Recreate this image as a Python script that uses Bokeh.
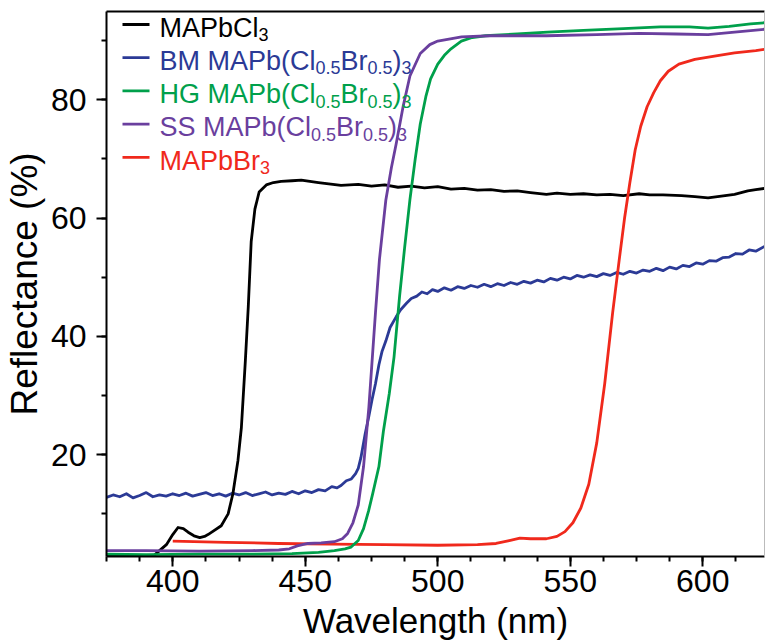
from bokeh.plotting import figure
from bokeh.models import (SingleIntervalTicker, FixedTicker, LinearAxis, Label,
                          PolyAnnotation)
from bokeh.embed import file_html
from bokeh.resources import INLINE

# ---------------- data ----------------
wl_black = [375, 380, 385, 390, 393, 395, 397.6, 400, 402, 404, 405.8, 408, 410.2, 412,
            413.3, 415, 418.3, 420.9, 422.7, 424.6, 425.9, 427.4, 428.5, 429.6, 431,
            432.6, 435.3, 438, 440.9, 445, 448.5, 455, 463.5, 470, 475, 480, 485, 490,
            495, 500, 505, 510, 515, 520, 525, 530, 535, 541, 545, 550, 555, 560, 565,
            570, 576, 580, 585, 592, 597, 602, 607, 612, 617, 620, 623.3]
r_black = [3.0, 2.9, 2.8, 2.8, 3.0, 3.8, 4.8, 6.5, 7.7, 7.5, 6.9, 6.3, 6.0, 6.2,
           6.5, 7.0, 8.0, 10.0, 13.4, 19.0, 24.6, 35.9, 45.0, 56.0, 61.5,
           64.4, 65.6, 66.0, 66.2, 66.3, 66.4, 66.0, 65.5, 65.7, 65.4, 65.6, 65.2, 65.4,
           65.1, 65.3, 64.9, 65.0, 64.7, 64.8, 64.5, 64.6, 64.3, 64.0, 64.2, 64.0, 64.1, 63.9, 64.0,
           63.8, 64.1, 63.9, 63.9, 63.8, 63.6, 63.4, 63.7, 64.0, 64.6, 64.8, 65.0]

wl_bm = [375, 377.5, 380, 382.5, 385, 387.5, 390, 392.5, 395, 397.5, 400, 402.5, 405, 407.5,
         410, 412.5, 415, 417.5, 420, 422.5, 425, 427.5, 430, 432.5, 435, 437.5, 440, 442.5,
         445, 447.5, 450, 452.5, 455, 457.5, 460, 462, 463.5, 465.5, 467.4, 469, 470, 471,
         472.6, 474, 475.2, 476.5, 477.8, 479, 480.4, 482, 484.3, 486, 488.2, 490, 492.1,
         494, 496, 498, 500, 502.5, 505, 507.5, 510, 512.5, 515, 517.5, 520, 522.5, 525,
         527.5, 530, 532.5, 535, 537.5, 540, 542.5, 545, 547.5, 550, 552.5, 555, 557.5, 560,
         562.5, 565, 567.5, 570, 572.5, 575, 577.5, 580, 582.5, 585, 587.5, 590, 592.5, 595,
         597.5, 600, 602.5, 605, 607.5, 610, 612.5, 615, 617.5, 620, 623.3]
r_bm = [12.8, 13.2, 12.9, 13.4, 12.7, 13.1, 13.6, 12.9, 13.2, 13.0, 13.4, 13.1, 13.5, 13.0,
        13.3, 13.6, 13.1, 13.4, 13.0, 13.5, 13.2, 13.6, 13.1, 13.4, 13.7, 13.2, 13.5, 13.3,
        13.8, 13.4, 13.9, 13.6, 14.1, 13.9, 14.6, 14.4, 14.8, 15.6, 15.9, 16.8, 17.7, 19.5,
        23.5, 26.5, 29.3, 32.0, 35.2, 37.5, 39.2, 41.5, 43.3, 44.5, 45.6, 46.4, 46.8,
        47.5, 47.2, 47.9, 47.6, 48.2, 47.8, 48.4, 48.1, 48.6, 48.3, 48.8, 48.4, 48.9, 48.6,
        49.1, 48.8, 49.3, 49.0, 49.5, 49.2, 49.8, 49.5, 50.0, 49.7, 50.3, 50.0, 50.4, 50.1,
        50.6, 50.3, 50.8, 50.5, 51.0, 50.7, 51.2, 51.0, 51.5, 51.1, 51.7, 51.4, 52.0, 51.8,
        52.4, 52.2, 52.8, 52.7, 53.3, 53.4, 54.0, 53.9, 54.6, 54.4, 55.2]

wl_hg = [375, 390, 410, 430, 445, 455, 461, 465, 467.3, 470, 472, 473.9, 475.5, 477.8, 479.5,
         481.7, 483.5, 485.6, 487.5, 489.5, 491.5, 493.4, 495.5, 497.3, 500, 502.5, 505,
         508.9, 513, 518, 530, 541.4, 555, 570, 584, 595, 602, 610, 618, 623.3]
r_hg = [3.2, 3.1, 3.2, 3.2, 3.3, 3.5, 3.8, 4.1, 4.4, 5.5, 7.5, 10.5, 13.5, 18.0, 24.0,
        30.3, 36.5, 46.8, 55.0, 63.1, 70.0, 75.9, 80.5, 83.5, 86.0, 87.5, 88.6,
        89.9, 90.5, 90.8, 91.1, 91.4, 91.7, 92.0, 92.3, 92.3, 92.1, 92.4, 92.8, 93.0]

wl_ss = [375, 390, 410, 430, 440, 444, 447, 451, 456, 461, 464, 466, 468, 470, 472, 474,
         476.5, 478, 480.4, 482.5, 484.3, 487, 489.5, 493.4, 497, 500, 509, 520, 541, 560,
         576, 590, 602, 612, 623.3]
r_ss = [3.8, 3.8, 3.7, 3.8, 3.9, 4.1, 4.6, 5.0, 5.1, 5.3, 5.8, 6.7, 8.5, 11.5, 18.0, 28.0,
        44.0, 53.0, 63.0, 68.5, 72.5, 79.0, 84.0, 87.8, 89.3, 89.9, 90.6, 90.8, 90.8, 91.0,
        91.2, 91.1, 91.0, 91.4, 91.9]

wl_br = [400, 420, 440, 460, 480, 500, 515, 522, 527, 531, 535, 541, 545, 548, 551, 554,
         557, 560, 563, 566, 568.5, 570.5, 572.5, 574.5, 576.6, 579, 581.5, 584, 587, 591,
         597, 605, 612, 620, 623.3]
r_br = [5.4, 5.2, 5.0, 4.9, 4.8, 4.7, 4.8, 5.0, 5.5, 5.9, 5.8, 5.8, 6.2, 7.0, 8.5, 11.0,
        15.0, 22.0, 32.0, 44.0, 53.0, 60.0, 66.0, 71.5, 75.5, 78.8, 81.2, 83.2, 84.8, 86.0,
        86.8, 87.4, 87.9, 88.3, 88.5]

series = [
    (wl_black, r_black, "#000000"),
    (wl_bm, r_bm, "#2B3A96"),
    (wl_hg, r_hg, "#00A04B"),
    (wl_ss, r_ss, "#6A3F9E"),
    (wl_br, r_br, "#F0291C"),
]
draw_order = [1, 0, 4, 2, 3]

legend_colors = ["#000000", "#2B3A96", "#00A04B", "#6A3F9E", "#F0291C"]
legend_parts = [
    [("MAPbCl", False), ("3", True)],
    [("BM MAPb(Cl", False), ("0.5", True), ("Br", False), ("0.5", True), (")", False), ("3", True)],
    [("HG MAPb(Cl", False), ("0.5", True), ("Br", False), ("0.5", True), (")", False), ("3", True)],
    [("SS MAPb(Cl", False), ("0.5", True), ("Br", False), ("0.5", True), (")", False), ("3", True)],
    [("MAPbBr", False), ("3", True)],
]

x_title = "Wavelength (nm)"
y_title = "Reflectance (%)"

# ---------------- layout ----------------
W, H = 766, 644
ML, MR, MT, MB = 105, 2, 11, 88
FRAME_BOTTOM = H - MB
FONT = "Liberation Sans"

p = figure(width=W, height=H, x_range=(375, 623.3), y_range=(2.8, 94.9),
           output_backend="svg", toolbar_location=None,
           min_border_left=ML, min_border_right=MR, min_border_top=MT, min_border_bottom=MB)
p.grid.visible = False
p.outline_line_color = None
p.background_fill_color = "white"
p.border_fill_color = "white"

for i in draw_order:
    xs, ys, c = series[i]
    p.line(xs, ys, line_color=c, line_width=2.8, line_join="round")

p.xaxis.ticker = SingleIntervalTicker(interval=50, num_minor_ticks=4)
p.yaxis.ticker = SingleIntervalTicker(interval=20, num_minor_ticks=2)
for ax in (p.xaxis[0], p.yaxis[0]):
    ax.axis_line_width = 2
    ax.axis_line_color = "black"
    ax.major_tick_line_width = 2
    ax.minor_tick_line_width = 2
    ax.major_tick_out = 10
    ax.major_tick_in = 0
    ax.minor_tick_out = 5
    ax.minor_tick_in = 0
    ax.major_label_text_font = FONT
    ax.major_label_text_font_size = "32px"
    ax.major_label_text_color = "black"
    ax.axis_label_text_font = FONT
    ax.axis_label_text_font_style = "normal"
    ax.axis_label_text_color = "black"
p.xaxis.axis_label = x_title
p.yaxis.axis_label = y_title
p.xaxis.axis_label_text_font_size = "35px"
p.yaxis.axis_label_text_font_size = "37px"
p.xaxis.major_label_standoff = 3
p.yaxis.major_label_standoff = 10
p.xaxis.axis_label_standoff = 6
p.yaxis.axis_label_standoff = 3

top = LinearAxis(ticker=FixedTicker(ticks=[]), axis_line_width=2, axis_line_color="black",
                 major_tick_out=0, major_tick_in=0, minor_tick_out=0, minor_tick_in=0,
                 major_label_standoff=0)
p.add_layout(top, "above")
right = LinearAxis(ticker=FixedTicker(ticks=[]), axis_line_width=1, axis_line_color="#BBBBBB",
                   major_tick_out=0, major_tick_in=0, minor_tick_out=0, minor_tick_in=0,
                   major_label_standoff=0)
p.add_layout(right, "right")

# ---------------- legend (manual, with subscripts) ----------------
ADV = {"M": 833, "A": 667, "P": 667, "b": 556, "C": 722, "l": 222, "B": 667, " ": 278,
       "(": 333, ")": 333, "r": 333, "H": 722, "G": 778, "S": 667, "0": 556, ".": 278,
       "5": 556, "3": 556}
MAIN_FS, SUB_FS = 27, 18


def tw(s, fs):
    return sum(ADV.get(ch, 556) for ch in s) * fs / 1000.0


for i, parts in enumerate(legend_parts):
    col = legend_colors[i]
    sw_y = 24 + 33.2 * i
    p.add_layout(PolyAnnotation(xs=[121 - ML, 148 - ML], ys=[FRAME_BOTTOM - sw_y] * 2,
                                xs_units="screen", ys_units="screen",
                                fill_alpha=0, line_alpha=1.0, line_color=col, line_width=2.8))
    base = 27.0 + 33.3 * i
    x = 158.0
    for txt, sub in parts:
        fs = SUB_FS if sub else MAIN_FS
        yy = base + (7 if sub else 0)
        p.add_layout(Label(x=x - ML, y=FRAME_BOTTOM - yy, x_units="screen", y_units="screen",
                           text=txt, text_font=FONT, text_font_size=f"{fs}px",
                           text_color=col, text_baseline="alphabetic", text_align="left"))
        x += tw(txt, fs)

open("out.html", "w").write(file_html(p, INLINE))
